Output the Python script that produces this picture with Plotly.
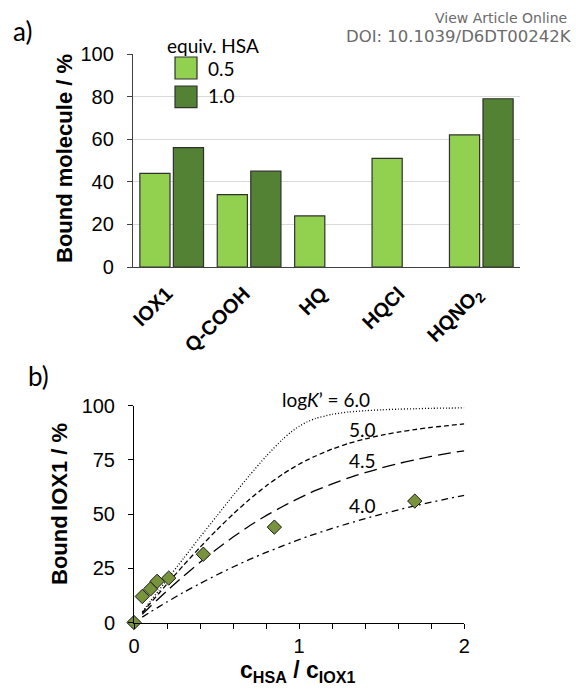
import plotly.graph_objects as go

# ---- panel a: fraction of each compound bound to HSA ----
compounds = ["IOX1", "Q-COOH", "HQ", "HQCl", "HQNO<sub>2</sub>"]
bound_05 = [44, 34, 24, 51, 62]
bound_10 = [56, 45, None, None, 79]
equiv_labels = ["0.5", "1.0"]

# ---- panel b: IOX1 titration with HSA and binding curves ----
ratio_grid = [0.05, 0.1, 0.15, 0.2, 0.3, 0.4, 0.5, 0.6, 0.7, 0.8, 0.9, 0.95,
              1.0, 1.05, 1.1, 1.2, 1.3, 1.4, 1.5, 1.6, 1.7, 1.8, 1.9, 2.0]
curve_60 = [4.9, 9.9, 14.8, 19.8, 29.6, 39.4, 49.0, 58.6, 67.9, 76.7, 84.5, 87.8,
            90.5, 92.6, 94.1, 96.0, 97.1, 97.7, 98.1, 98.4, 98.6, 98.8, 98.9, 99.0]
curve_50 = [4.5, 9.0, 13.4, 17.8, 26.4, 34.7, 42.6, 50.0, 56.8, 63.0, 68.4, 70.8,
            73.0, 75.0, 76.8, 80.0, 82.6, 84.7, 86.4, 87.8, 89.0, 90.0, 90.8, 91.6]
curve_45 = [3.8, 7.5, 11.1, 14.6, 21.4, 27.8, 33.8, 39.4, 44.6, 49.3, 53.5, 55.5,
            57.4, 59.2, 60.9, 63.9, 66.7, 69.1, 71.3, 73.3, 75.0, 76.6, 78.0, 79.2]
curve_40 = [2.5, 4.9, 7.2, 9.5, 13.9, 18.0, 21.9, 25.6, 29.1, 32.3, 35.3, 36.8,
            38.2, 39.6, 40.9, 43.4, 45.7, 47.9, 50.0, 51.9, 53.8, 55.5, 57.1, 58.6]
curve_names = ["6.0", "5.0", "4.5", "4.0"]
ratio_exp = [0, 0.05, 0.1, 0.14, 0.21, 0.42, 0.85, 1.7]
bound_exp = [0, 12, 15.5, 19, 20.5, 31.5, 44, 56]

W, H = 576, 693


def px(x):
    return x / W


def py(y):
    return 1 - y / H


LIGHT = "#92D050"
DARK = "#548235"
EDGE = "#303030"
ARIAL = "Arial"
TICKFONT = dict(family=ARIAL, size=20, color="#000")
CAL = "Lato"

fig = go.Figure()

fig.add_trace(go.Bar(x=compounds, y=bound_05, name=equiv_labels[0],
                     marker=dict(color=LIGHT, line=dict(color=EDGE, width=1.2)),
                     xaxis="x", yaxis="y", showlegend=False))
fig.add_trace(go.Bar(x=compounds, y=bound_10, name=equiv_labels[1],
                     marker=dict(color=DARK, line=dict(color=EDGE, width=1.2)),
                     xaxis="x", yaxis="y", showlegend=False))

dashes = ["1px,2px", "5px,3px", "13px,6px", "7px,4px,2px,4px"]
for name, ys, dash in zip(curve_names, [curve_60, curve_50, curve_45, curve_40], dashes):
    fig.add_trace(go.Scatter(x=ratio_grid, y=ys, mode="lines", name=name,
                             line=dict(color="#000", width=1.3, dash=dash, shape="spline",
                                       smoothing=0.6),
                             xaxis="x2", yaxis="y2", showlegend=False))

fig.add_trace(go.Scatter(x=ratio_exp, y=bound_exp, mode="markers",
                         marker=dict(symbol="diamond", size=11, color="#77933C",
                                     line=dict(color="#1a1a1a", width=1)),
                         cliponaxis=False, xaxis="x2", yaxis="y2", showlegend=False))

fig.update_layout(
    template="none",
    width=W, height=H,
    margin=dict(l=0, r=0, t=0, b=0, autoexpand=False),
    paper_bgcolor="white", plot_bgcolor="white",
    barmode="group", bargap=0.134, bargroupgap=0.1,
    xaxis=dict(domain=[px(133), px(520)], anchor="y", automargin=False, showline=True,
               linecolor="#404040", linewidth=1.3, ticks="", tickangle=-45,
               ticklabelshift=-5, ticklabelstandoff=6,
               tickfont=dict(family=ARIAL, size=20, color="#000", weight="bold"),
               showgrid=False, zeroline=False),
    yaxis=dict(domain=[py(267), py(54)], anchor="x", automargin=False, range=[0, 100],
               dtick=20, showline=True, linecolor="#404040", linewidth=1.3,
               ticks="outside", ticklen=5, tickcolor="#404040", ticklabelstandoff=9,
               tickfont=TICKFONT, showgrid=True, gridcolor="#D9D9D9",
               gridwidth=1, zeroline=False),
    xaxis2=dict(domain=[px(134), px(464.3)], anchor="y2", automargin=False, range=[0, 2],
                dtick=1, showline=True, linecolor="#000", linewidth=1,
                ticks="outside", ticklen=5, tickcolor="#000",
                minor=dict(dtick=0.2, ticks="outside", ticklen=5, tickcolor="#000",
                           showgrid=False),
                tickfont=TICKFONT, showgrid=False, zeroline=False),
    yaxis2=dict(domain=[py(622.5), py(405.7)], anchor="x2", automargin=False,
                range=[0, 100], dtick=25, showline=True, linecolor="#000", linewidth=1,
                ticks="outside", ticklen=5, tickcolor="#000", ticklabelstandoff=9,
                tickfont=TICKFONT, showgrid=False, zeroline=False),
)

# legend for the bar series
shapes = []
for (y0, y1), col in zip([(57, 79), (86, 107.7)], [LIGHT, DARK]):
    shapes.append(dict(type="rect", xref="paper", yref="paper",
                       x0=px(175), x1=px(197), y0=py(y1), y1=py(y0),
                       fillcolor=col, line=dict(color=EDGE, width=1.2), layer="above"))
fig.update_layout(shapes=shapes)

ann = []
ann.append(dict(text="equiv. HSA", x=px(165), y=py(45), xanchor="left", yanchor="middle",
                font=dict(family=CAL, size=19, color="#000")))
for lab, yc in zip(equiv_labels, [68, 96]):
    ann.append(dict(text=lab, x=px(206), y=py(yc), xanchor="left", yanchor="middle",
                    font=dict(family=CAL, size=19, color="#000")))

# panel letters
ann.append(dict(text="a)", x=px(11), y=py(31), xanchor="left", yanchor="middle",
                font=dict(family=CAL, size=26, color="#000")))
ann.append(dict(text="b)", x=px(26), y=py(376), xanchor="left", yanchor="middle",
                font=dict(family=CAL, size=26, color="#000")))

# header
ann.append(dict(text="View Article Online", x=px(569), y=py(18), xanchor="right",
                yanchor="middle", font=dict(family="DejaVu Sans", size=14, color="#6b6b6b")))
ann.append(dict(text="DOI: 10.1039/D6DT00242K", x=px(574), y=py(36), xanchor="right",
                yanchor="middle", font=dict(family="DejaVu Sans", size=16.5, color="#6b6b6b")))

# axis titles
ann.append(dict(text="<b>Bound molecule / %</b>", x=px(64), y=py(159), textangle=-90,
                xanchor="center", yanchor="middle",
                font=dict(family=ARIAL, size=22, color="#000")))
ann.append(dict(text="<b>Bound\u2009IOX1 / %</b>", x=px(59), y=py(504), textangle=-90,
                xanchor="center", yanchor="middle",
                font=dict(family=ARIAL, size=22, color="#000")))
ann.append(dict(text="<b>c<sub>HSA</sub> / c<sub>IOX1</sub></b>", x=px(297), y=py(671),
                xanchor="center", yanchor="middle",
                font=dict(family=ARIAL, size=23, color="#000")))

# curve labels (log K')
ann.append(dict(text="log<i>K</i>’ = 6.0", x=px(280), y=py(400),
                xanchor="left", yanchor="middle",
                font=dict(family=CAL, size=19, color="#000")))
for lab, yv in zip(curve_names[1:], [89.0, 74.8, 53.8]):
    ann.append(dict(text=lab, x=1.29, y=yv, xref="x2", yref="y2",
                    xanchor="left", yanchor="middle",
                    font=dict(family=CAL, size=19, color="#000")))

for a in ann:
    a.setdefault("xref", "paper")
    a.setdefault("yref", "paper")
    a["showarrow"] = False
fig.update_layout(annotations=ann)

fig.write_html("out.html")
